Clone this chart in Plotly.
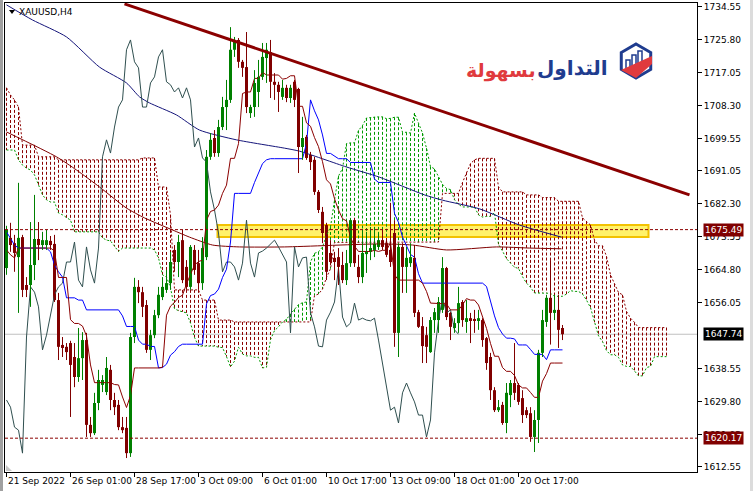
import plotly.graph_objects as go

# ---------------- data ----------------
symbol_label = "XAUUSD,H4"
time_labels = ["21 Sep 2022", "26 Sep 01:00", "28 Sep 17:00", "3 Oct 09:00", "6 Oct 01:00",
               "10 Oct 17:00", "13 Oct 09:00", "18 Oct 01:00", "20 Oct 17:00"]
time_label_bars = [0, 16, 32, 48, 64, 80, 96, 112, 128]

opens = [
    1665.3, 1673.3, 1671.9, 1668.2, 1673.5, 1660.8, 1660.8, 1666.1, 1673.0, 1671.4,
    1671.4, 1672.5, 1671.7, 1656.8, 1644.9, 1644.4, 1645.4, 1641.7, 1636.4, 1641.4,
    1646.2, 1623.7, 1621.5, 1629.5, 1634.3, 1632.4, 1638.3, 1630.3, 1629.0, 1623.1,
    1622.9, 1616.2, 1647.0, 1660.3, 1658.9, 1655.5, 1643.6, 1647.5, 1652.8, 1657.6,
    1659.5, 1661.3, 1670.1, 1666.9, 1672.7, 1665.6, 1660.3, 1670.1, 1666.6, 1661.3,
    1668.2, 1694.8, 1699.8, 1695.8, 1702.7, 1708.0, 1709.9, 1723.2, 1725.8, 1720.0,
    1718.6, 1706.4, 1708.0, 1712.0, 1716.0, 1721.0, 1722.6, 1714.7, 1713.9, 1710.7,
    1713.1, 1710.4, 1714.7, 1712.8, 1697.4, 1700.1, 1695.3, 1694.0, 1685.5, 1680.2,
    1676.7, 1669.3, 1668.0, 1668.2, 1666.1, 1662.1, 1666.6, 1678.0, 1665.6, 1662.9,
    1669.0, 1669.6, 1670.1, 1670.9, 1672.7, 1671.9, 1670.1, 1674.6, 1648.1, 1670.9,
    1665.6, 1666.6, 1668.0, 1653.6, 1649.9, 1647.5, 1643.0, 1651.5, 1651.5, 1654.2,
    1665.3, 1653.4, 1649.4, 1650.7, 1656.3, 1651.0, 1652.0, 1651.8, 1651.5, 1651.5,
    1646.7, 1641.7, 1632.9, 1627.6, 1629.0, 1624.2, 1631.6, 1634.8, 1634.3, 1630.8,
    1627.6, 1626.8, 1620.5, 1625.0, 1642.8, 1651.0, 1657.4, 1653.4, 1654.2, 1649.4]
highs = [
    1676.5, 1677.3, 1674.1, 1687.9, 1674.1, 1662.9, 1677.5, 1684.7, 1677.5, 1674.9,
    1675.4, 1673.8, 1674.1, 1658.7, 1647.0, 1645.4, 1646.0, 1645.4, 1649.4, 1648.3,
    1648.1, 1625.8, 1632.2, 1638.3, 1636.9, 1641.7, 1639.6, 1632.2, 1630.3, 1625.8,
    1625.8, 1648.1, 1662.7, 1662.1, 1660.3, 1656.8, 1648.9, 1654.2, 1660.3, 1662.9,
    1664.8, 1669.6, 1671.4, 1674.1, 1675.4, 1667.4, 1671.4, 1671.4, 1670.1, 1673.5,
    1696.6, 1701.1, 1701.9, 1704.6, 1710.7, 1715.2, 1729.2, 1726.6, 1726.3, 1720.5,
    1727.9, 1708.6, 1717.8, 1720.5, 1725.0, 1725.0, 1725.8, 1717.0, 1714.7, 1715.2,
    1713.9, 1713.9, 1715.2, 1713.1, 1705.4, 1700.6, 1696.1, 1694.8, 1686.0, 1681.5,
    1677.3, 1672.7, 1669.6, 1670.6, 1669.6, 1670.1, 1678.3, 1678.6, 1668.8, 1675.4,
    1674.9, 1676.2, 1676.2, 1674.6, 1675.4, 1673.3, 1682.6, 1678.0, 1671.9, 1671.9,
    1670.9, 1671.9, 1671.4, 1654.2, 1652.3, 1649.7, 1652.3, 1654.7, 1657.6, 1668.2,
    1665.6, 1653.6, 1652.0, 1660.3, 1656.8, 1656.8, 1653.4, 1654.2, 1654.2, 1652.0,
    1647.0, 1642.8, 1633.7, 1630.3, 1629.8, 1634.8, 1635.6, 1645.4, 1634.8, 1632.9,
    1628.4, 1628.4, 1627.6, 1643.6, 1654.2, 1658.2, 1667.4, 1658.2, 1658.2, 1650.2]
lows = [
    1663.5, 1669.6, 1664.3, 1653.4, 1657.6, 1657.6, 1655.0, 1662.1, 1667.4, 1670.1,
    1670.1, 1670.1, 1656.3, 1640.9, 1641.7, 1640.9, 1625.8, 1633.7, 1635.1, 1635.6,
    1620.5, 1620.5, 1621.0, 1627.6, 1632.4, 1631.6, 1627.6, 1626.3, 1622.3, 1621.5,
    1614.9, 1615.2, 1645.4, 1656.0, 1652.3, 1642.8, 1640.9, 1646.7, 1652.0, 1656.8,
    1658.7, 1659.5, 1664.3, 1662.9, 1661.3, 1659.5, 1659.5, 1663.5, 1659.5, 1659.5,
    1667.4, 1694.0, 1694.8, 1694.8, 1701.9, 1701.9, 1709.1, 1721.3, 1718.4, 1716.0,
    1706.4, 1705.1, 1705.4, 1708.0, 1715.2, 1714.4, 1710.4, 1709.9, 1706.7, 1709.9,
    1709.3, 1709.1, 1708.0, 1690.5, 1694.0, 1694.0, 1691.3, 1684.7, 1679.9, 1671.9,
    1662.1, 1666.1, 1662.1, 1660.8, 1661.3, 1660.8, 1665.6, 1665.6, 1661.3, 1661.3,
    1664.0, 1667.4, 1668.2, 1670.1, 1670.1, 1668.2, 1665.6, 1644.4, 1641.7, 1658.7,
    1658.7, 1665.6, 1652.3, 1649.4, 1640.1, 1640.1, 1642.8, 1648.1, 1648.1, 1653.4,
    1651.5, 1646.2, 1648.1, 1648.1, 1649.7, 1648.1, 1645.4, 1648.1, 1648.9, 1644.4,
    1638.3, 1630.3, 1627.1, 1627.1, 1623.7, 1621.5, 1628.4, 1630.3, 1629.0, 1624.2,
    1625.5, 1619.2, 1616.5, 1618.9, 1641.7, 1649.7, 1645.0, 1651.5, 1644.1, 1646.2]
closes = [
    1675.4, 1671.4, 1669.3, 1673.3, 1659.5, 1659.5, 1666.1, 1673.0, 1671.4, 1672.7,
    1672.7, 1671.4, 1656.8, 1644.4, 1644.1, 1643.0, 1639.6, 1636.4, 1641.4, 1646.2,
    1623.7, 1621.5, 1629.5, 1635.6, 1635.6, 1638.8, 1630.3, 1628.4, 1623.1, 1622.3,
    1616.2, 1647.0, 1660.3, 1658.9, 1655.0, 1643.6, 1647.5, 1652.8, 1658.2, 1660.3,
    1661.3, 1666.9, 1666.9, 1672.2, 1662.1, 1660.3, 1670.9, 1664.8, 1661.3, 1670.6,
    1694.8, 1699.3, 1695.8, 1702.7, 1708.0, 1709.9, 1723.2, 1725.8, 1720.0, 1718.4,
    1708.0, 1708.0, 1714.4, 1716.0, 1721.3, 1723.2, 1714.7, 1713.9, 1712.0, 1713.1,
    1710.4, 1713.1, 1709.9, 1697.4, 1699.8, 1694.5, 1693.4, 1685.5, 1680.7, 1674.6,
    1664.3, 1666.9, 1666.9, 1665.6, 1662.1, 1666.6, 1678.0, 1666.6, 1662.9, 1669.3,
    1669.8, 1670.6, 1671.7, 1672.7, 1670.9, 1668.8, 1666.9, 1648.1, 1670.9, 1665.6,
    1668.0, 1668.2, 1653.4, 1649.7, 1644.6, 1644.4, 1651.5, 1653.6, 1656.3, 1665.3,
    1652.3, 1649.7, 1650.7, 1656.0, 1651.5, 1652.0, 1651.5, 1651.3, 1652.0, 1646.2,
    1640.1, 1632.9, 1627.6, 1628.4, 1624.2, 1632.2, 1634.8, 1632.2, 1629.8, 1626.3,
    1626.3, 1620.5, 1625.0, 1642.8, 1651.5, 1657.4, 1653.4, 1654.2, 1648.9, 1647.74]

tenkan = [
    1670.1, 1668.8, 1668.0, 1670.6, 1670.6, 1670.6, 1670.6, 1670.6, 1670.6, 1670.6,
    1670.6, 1670.6, 1669.8, 1662.8, 1662.8, 1662.8, 1651.6, 1650.6, 1650.6, 1649.9,
    1647.3, 1639.6, 1634.9, 1634.9, 1634.9, 1634.9, 1634.9, 1634.4, 1634.3, 1631.1,
    1628.3, 1631.5, 1638.8, 1638.8, 1638.8, 1638.8, 1638.8, 1638.8, 1638.8, 1639.0,
    1652.8, 1655.2, 1656.2, 1657.5, 1658.1, 1661.1, 1663.7, 1666.1, 1667.0, 1667.4,
    1678.0, 1680.3, 1680.7, 1682.0, 1685.1, 1687.3, 1694.4, 1694.4, 1698.3, 1711.6,
    1712.0, 1712.0, 1715.6, 1715.6, 1717.2, 1716.5, 1716.5, 1716.5, 1716.5, 1715.4,
    1715.6, 1716.3, 1716.3, 1708.2, 1708.2, 1703.8, 1702.9, 1699.9, 1697.5, 1693.5,
    1688.7, 1687.6, 1683.7, 1680.7, 1678.4, 1677.8, 1673.4, 1671.1, 1669.7, 1669.7,
    1669.7, 1669.7, 1670.0, 1669.7, 1670.0, 1670.0, 1672.0, 1663.5, 1662.1, 1662.1,
    1662.1, 1662.1, 1662.1, 1662.1, 1661.3, 1659.1, 1656.0, 1656.0, 1656.0, 1656.0,
    1655.8, 1654.2, 1654.2, 1654.2, 1655.5, 1657.2, 1656.8, 1656.8, 1655.5, 1652.3,
    1649.3, 1645.3, 1641.9, 1641.9, 1638.9, 1637.9, 1637.9, 1636.8, 1634.3, 1633.5,
    1633.5, 1632.3, 1631.0, 1631.0, 1635.3, 1637.3, 1640.1, 1640.1, 1640.1, 1640.1]
kijun = [
    1674.9, 1673.3, 1671.4, 1670.6, 1670.6, 1670.6, 1670.6, 1670.6, 1670.6, 1670.6,
    1670.6, 1669.6, 1666.1, 1664.3, 1662.9, 1657.4, 1657.4, 1657.4, 1656.8, 1656.8,
    1654.2, 1654.2, 1654.2, 1654.2, 1654.2, 1654.2, 1654.2, 1654.2, 1654.2, 1652.6,
    1649.8, 1649.8, 1649.8, 1646.2, 1645.1, 1645.1, 1644.5, 1644.5, 1638.8, 1638.9,
    1639.8, 1642.2, 1643.1, 1644.5, 1645.1, 1645.1, 1645.1, 1645.1, 1645.1, 1645.1,
    1655.8, 1658.0, 1658.4, 1659.7, 1662.8, 1665.0, 1672.2, 1685.1, 1685.1, 1685.1,
    1685.1, 1685.1, 1688.0, 1690.6, 1693.0, 1694.0, 1694.3, 1694.3, 1694.3, 1694.3,
    1694.3, 1694.3, 1694.3, 1694.3, 1694.3, 1698.3, 1709.9, 1707.0, 1704.6, 1700.6,
    1695.7, 1695.7, 1695.0, 1694.3, 1694.3, 1694.3, 1693.3, 1693.3, 1693.3, 1693.3,
    1693.3, 1693.3, 1688.9, 1688.0, 1688.0, 1688.0, 1688.0, 1679.8, 1677.4, 1673.5,
    1671.2, 1668.9, 1668.2, 1663.8, 1661.3, 1661.3, 1661.3, 1661.3, 1661.3, 1661.3,
    1661.3, 1661.3, 1661.3, 1661.3, 1661.3, 1661.3, 1661.3, 1661.3, 1661.3, 1661.3,
    1660.4, 1656.4, 1652.6, 1649.5, 1647.8, 1646.7, 1646.7, 1646.5, 1644.9, 1644.9,
    1644.9, 1643.7, 1642.4, 1642.4, 1642.4, 1641.0, 1643.6, 1643.6, 1643.6, 1643.6]

span_a = [
    1696.6, 1696.6, 1696.6, 1694.0, 1692.6, 1691.8, 1691.3, 1690.0, 1687.3, 1684.7,
    1683.4, 1682.8, 1682.8, 1679.9, 1679.4, 1678.6, 1678.0, 1674.9, 1674.9, 1674.9,
    1674.9, 1674.9, 1674.9, 1674.9, 1673.3, 1672.7, 1672.5, 1671.0, 1669.7, 1670.6,
    1670.6, 1670.6, 1670.6, 1670.6, 1670.6, 1670.6, 1670.6, 1670.1, 1668.0, 1663.5,
    1662.9, 1660.1, 1654.5, 1654.0, 1653.7, 1653.4, 1650.7, 1646.9, 1644.6, 1644.6,
    1644.6, 1644.6, 1644.6, 1644.3, 1644.2, 1641.8, 1639.1, 1640.6, 1644.3, 1642.5,
    1642.0, 1642.0, 1641.6, 1641.6, 1638.8, 1639.0, 1646.3, 1648.7, 1649.7, 1651.0,
    1651.7, 1653.1, 1654.4, 1655.6, 1656.1, 1656.3, 1666.9, 1669.2, 1669.6, 1670.9,
    1673.9, 1676.2, 1683.3, 1689.7, 1691.7, 1698.3, 1698.5, 1698.5, 1701.8, 1703.1,
    1705.1, 1705.2, 1705.4, 1705.4, 1705.4, 1704.9, 1705.0, 1705.3, 1705.3, 1701.3,
    1701.3, 1701.1, 1706.4, 1703.5, 1701.1, 1697.1, 1692.2, 1691.6, 1689.4, 1687.5,
    1686.4, 1686.1, 1683.4, 1682.2, 1681.5, 1681.5, 1681.5, 1681.5, 1679.4, 1678.8,
    1679.0, 1679.0, 1680.0, 1671.6, 1669.8, 1667.8, 1666.6, 1665.5, 1665.2, 1663.0,
    1661.3, 1660.2, 1658.7, 1658.7, 1658.7, 1658.7, 1658.6, 1657.8, 1657.8, 1657.8,
    1658.4, 1659.3, 1659.1, 1659.1, 1658.4, 1656.8, 1654.8, 1650.9, 1647.3, 1645.8,
    1643.4, 1642.3, 1642.3, 1641.6, 1639.6, 1639.2, 1639.2, 1638.0, 1636.7, 1636.7,
    1638.9, 1639.2, 1641.8, 1641.8, 1641.8, 1641.8]
span_b = [
    1713.1, 1711.2, 1709.9, 1708.0, 1697.9, 1697.9, 1697.9, 1697.9, 1694.8, 1694.8,
    1694.8, 1694.8, 1694.8, 1694.0, 1694.0, 1694.0, 1694.0, 1694.0, 1694.0, 1694.0,
    1694.0, 1694.0, 1694.0, 1694.0, 1694.0, 1694.0, 1694.0, 1694.0, 1694.0, 1694.0,
    1694.0, 1694.0, 1694.0, 1694.0, 1694.5, 1694.5, 1694.5, 1694.5, 1686.8, 1686.8,
    1686.8, 1679.4, 1659.5, 1659.5, 1659.5, 1659.5, 1659.5, 1659.5, 1659.5, 1656.8,
    1656.8, 1656.8, 1656.8, 1651.5, 1651.5, 1651.5, 1651.5, 1651.0, 1651.0, 1651.0,
    1651.0, 1651.0, 1651.0, 1651.0, 1651.0, 1651.0, 1651.0, 1651.0, 1651.0, 1651.0,
    1651.0, 1651.0, 1651.0, 1651.0, 1651.0, 1651.0, 1651.0, 1658.0, 1658.4, 1659.7,
    1662.8, 1665.1, 1672.1, 1672.1, 1672.1, 1672.1, 1672.1, 1672.1, 1672.1, 1672.1,
    1672.1, 1672.1, 1672.1, 1672.1, 1672.1, 1672.1, 1672.1, 1672.1, 1672.1, 1672.1,
    1672.1, 1672.1, 1672.1, 1672.1, 1672.1, 1672.1, 1672.1, 1672.1, 1672.2, 1685.1,
    1685.1, 1685.1, 1685.1, 1685.1, 1688.0, 1690.7, 1693.0, 1694.0, 1694.4, 1694.4,
    1694.4, 1694.4, 1694.4, 1686.8, 1685.5, 1685.5, 1685.5, 1685.5, 1685.5, 1685.5,
    1684.7, 1684.7, 1684.7, 1684.7, 1684.0, 1684.0, 1684.0, 1684.0, 1683.0, 1683.0,
    1683.0, 1683.0, 1683.0, 1683.0, 1678.6, 1677.7, 1676.7, 1672.7, 1671.2, 1671.2,
    1668.4, 1663.5, 1661.1, 1658.8, 1658.2, 1653.8, 1652.0, 1650.9, 1649.5, 1649.5,
    1649.5, 1649.5, 1649.5, 1649.5, 1649.5, 1649.5]

# long moving averages (vertices)
ma_navy_bars = [0, 6.5, 15, 23.25, 30, 33.25, 35.75, 42.5, 48.25, 57.5, 69.5, 73.25, 85, 93.25,
                104.5, 109, 118.25, 128.25, 138.75]
ma_navy_vals = [1735.1, 1731.1, 1726.6, 1718.6, 1714.4, 1710.7, 1709.1, 1705.9, 1701.9, 1699.3,
                1697.1, 1696.3, 1692.1, 1689.4, 1684.7, 1683.3, 1681.0, 1676.7, 1673.5]
ma_red_bars = [0, 12.5, 17.5, 23.25, 30, 34.5, 41.5, 45.75, 51.5, 58.25, 69.5, 93.25, 101.5,
               110, 122.5, 130.75, 138.75]
ma_red_vals = [1701.4, 1694.8, 1691.3, 1686.8, 1681.2, 1678.6, 1675.4, 1673.5, 1671.4, 1670.9,
               1670.9, 1671.7, 1671.4, 1670.1, 1670.9, 1670.6, 1670.4]

trend_bars = [29.5, 170.75]
trend_vals = [1735.35, 1684.7]

resistance_level = 1675.49
support_level = 1620.17
last_price = 1647.74
zone_bars = [52.75, 160.5]
zone_vals = [1673.5, 1676.7]

y_tick_vals = [1734.55, 1725.80, 1717.05, 1708.30, 1699.55, 1691.05, 1682.30, 1673.55,
               1664.80, 1656.05, 1638.55, 1629.80, 1621.05, 1612.55]
chikou_shift = 26

# ---------------- colours / fonts ----------------
BULL = "#008000"
BEAR = "#800000"
CLOUD_BULL = "#009a00"
CLOUD_BEAR = "#8b0000"
FONT = "DejaVu Sans"

W, H = 753, 491
ML, MR, MT, MB = 5, 56, 3, 19
PW, PH = W - ML - MR, H - MT - MB


def px(x):
    return (x - ML) / PW


def py(y):
    return (H - MB - y) / PH


fig = go.Figure()

# ----- Ichimoku cloud hatching -----
bx, by, rx, ry = [], [], [], []
for p, (a, b) in enumerate(zip(span_a, span_b)):
    if a >= b:
        bx += [p, p, None]
        by += [a, b, None]
    else:
        rx += [p, p, None]
        ry += [b, a, None]
fig.add_trace(go.Scatter(x=rx, y=ry, mode="lines", line=dict(color=CLOUD_BEAR, width=1, dash="3px,2px"),
                         hoverinfo="skip", showlegend=False))
fig.add_trace(go.Scatter(x=bx, y=by, mode="lines", line=dict(color=CLOUD_BULL, width=1, dash="3px,2px"),
                         hoverinfo="skip", showlegend=False))
cloud_bars = list(range(len(span_a)))
fig.add_trace(go.Scatter(x=cloud_bars, y=span_a, mode="lines",
                         line=dict(color=CLOUD_BULL, width=1, dash="2px,2px"),
                         hoverinfo="skip", showlegend=False))
fig.add_trace(go.Scatter(x=cloud_bars, y=span_b, mode="lines",
                         line=dict(color=CLOUD_BEAR, width=1, dash="2px,2px"),
                         hoverinfo="skip", showlegend=False))

# ----- moving averages -----
fig.add_trace(go.Scatter(x=ma_navy_bars, y=ma_navy_vals, mode="lines",
                         line=dict(color="#14147a", width=1, shape="spline", smoothing=0.6),
                         hoverinfo="skip", showlegend=False))
fig.add_trace(go.Scatter(x=ma_red_bars, y=ma_red_vals, mode="lines",
                         line=dict(color="#800000", width=1, shape="spline", smoothing=0.6),
                         hoverinfo="skip", showlegend=False))

# ----- Ichimoku lines -----
bars = list(range(len(closes)))
fig.add_trace(go.Scatter(x=bars[:len(closes) - chikou_shift], y=closes[chikou_shift:], mode="lines",
                         line=dict(color="#2f4f4f", width=1), hoverinfo="skip", showlegend=False))
fig.add_trace(go.Scatter(x=bars, y=kijun, mode="lines", line=dict(color="#0000ff", width=1),
                         hoverinfo="skip", showlegend=False))
fig.add_trace(go.Scatter(x=bars, y=tenkan, mode="lines", line=dict(color="#8b0000", width=1),
                         hoverinfo="skip", showlegend=False))

# ----- candles -----
for up, col in ((True, BULL), (False, BEAR)):
    wx, wy, cx, cb, ch = [], [], [], [], []
    for i in bars:
        is_up = closes[i] >= opens[i]
        if is_up != up:
            continue
        wx += [i, i, None]
        wy += [lows[i], highs[i], None]
        lo = min(opens[i], closes[i])
        hi = max(opens[i], closes[i])
        cx.append(i)
        cb.append(lo)
        ch.append(max(hi - lo, 0.3))
    fig.add_trace(go.Scatter(x=wx, y=wy, mode="lines", line=dict(color=col, width=1),
                             hoverinfo="skip", showlegend=False))
    fig.add_trace(go.Bar(x=cx, y=ch, base=cb, width=0.75, marker=dict(color=col, line=dict(width=0)),
                         hoverinfo="skip", showlegend=False))

# ----- trend line -----
fig.add_trace(go.Scatter(x=trend_bars, y=trend_vals, mode="lines", line=dict(color="#8b0000", width=3),
                         hoverinfo="skip", showlegend=False))

shapes = []
# yellow zone
shapes.append(dict(type="rect", xref="x", yref="y", x0=zone_bars[0], x1=zone_bars[1],
                   y0=zone_vals[0], y1=zone_vals[1], layer="below",
                   fillcolor="rgba(255,240,80,0.85)", line=dict(color="#f2c200", width=2)))
# current price line
shapes.append(dict(type="line", xref="paper", yref="y", x0=0, x1=1, y0=last_price, y1=last_price,
                   layer="below", line=dict(color="#c0c0c0", width=1)))
# dashed support / resistance
for lvl in (resistance_level, support_level):
    shapes.append(dict(type="line", xref="paper", yref="y", x0=0, x1=1, y0=lvl, y1=lvl,
                       line=dict(color="#8b0000", width=1, dash="3px,2px")))
# window decoration
shapes.append(dict(type="rect", xref="paper", yref="paper", x0=px(0), x1=px(3), y0=py(491), y1=py(0),
                   fillcolor="#a0a0a0", line=dict(width=0)))
shapes.append(dict(type="rect", xref="paper", yref="paper", x0=px(750), x1=px(753), y0=py(491), y1=py(0),
                   fillcolor="#dcdcdc", line=dict(width=0)))
shapes.append(dict(type="path", xref="paper", yref="paper",
                   path=f"M {px(6)} {py(465)} L {px(6)} {py(471)} L {px(12)} {py(471)} Z",
                   fillcolor="#c8c8c8", line=dict(width=0)))
# symbol triangle
shapes.append(dict(type="path", xref="paper", yref="paper",
                   path=f"M {px(9)} {py(10)} L {px(15)} {py(10)} L {px(12)} {py(14)} Z",
                   fillcolor="#000000", line=dict(width=0)))
# logo icon
cx0, cy0, r = 636, 61, 17
hexpts = [(cx0, cy0 - r), (cx0 + 0.866 * r, cy0 - r / 2), (cx0 + 0.866 * r, cy0 + r / 2),
          (cx0, cy0 + r), (cx0 - 0.866 * r, cy0 + r / 2), (cx0 - 0.866 * r, cy0 - r / 2)]
hp = "M " + " L ".join(f"{px(a)} {py(b)}" for a, b in hexpts) + " Z"
shapes.append(dict(type="path", xref="paper", yref="paper", path=hp,
                   fillcolor="rgba(0,0,0,0)", line=dict(color="#1f3c8f", width=3)))
for bx0, top in ((626, 60), (632, 55), (638, 51)):
    shapes.append(dict(type="rect", xref="paper", yref="paper", x0=px(bx0), x1=px(bx0 + 4),
                       y0=py(71), y1=py(top), fillcolor="#ffffff", line=dict(color="#1f3c8f", width=1.5)))
shapes.append(dict(type="path", xref="paper", yref="paper",
                   path=f"M {px(621)} {py(70)} L {px(652)} {py(56)} L {px(652)} {py(64)} L {px(636)} {py(78)} Z",
                   fillcolor="#e03a3e", line=dict(width=0)))

annotations = []
annotations.append(dict(text=symbol_label, xref="paper", yref="paper", x=px(18), y=py(12),
                        xanchor="left", yanchor="middle", showarrow=False, borderpad=0,
                        font=dict(family=FONT, size=9, color="#000000")))
annotations.append(dict(text="<b>التداول</b>", xref="paper", yref="paper", x=px(609), y=py(68),
                        xanchor="right", yanchor="middle", showarrow=False, borderpad=0,
                        font=dict(family=FONT, size=20, color="#1f3c8f")))
annotations.append(dict(text="<b>بسهولة</b>", xref="paper", yref="paper", x=px(537), y=py(70),
                        xanchor="right", yanchor="middle", showarrow=False, borderpad=0,
                        font=dict(family=FONT, size=19, color="#e03a3e")))
for lvl, bg in ((resistance_level, "#800000"), (last_price, "#000000"), (support_level, "#800000")):
    annotations.append(dict(text=f"{lvl:.2f}", xref="paper", yref="y", x=1, y=lvl, xanchor="left",
                            yanchor="middle", xshift=6, showarrow=False, bgcolor=bg, borderpad=1,
                            font=dict(family=FONT, size=9, color="#ffffff")))
for b, lab in zip(time_label_bars, time_labels):
    annotations.append(dict(text=lab, xref="x", yref="paper", x=b, y=py(481), xanchor="left",
                            yanchor="middle", showarrow=False, borderpad=0,
                            font=dict(family=FONT, size=9, color="#000000")))

fig.update_layout(
    width=W, height=H,
    margin=dict(l=ML, r=MR, t=MT, b=MB, autoexpand=False),
    paper_bgcolor="#ffffff", plot_bgcolor="#ffffff",
    barmode="overlay", showlegend=False,
    shapes=shapes, annotations=annotations,
    xaxis=dict(range=[-0.375, 172.625], showgrid=False, zeroline=False, showline=True, mirror=True,
               linecolor="#000000", linewidth=1, ticks="outside", ticklen=4, tickcolor="#000000",
               tickvals=time_label_bars, showticklabels=False),
    yaxis=dict(range=[1611.2, 1735.6], side="right", showgrid=False, zeroline=False, showline=True,
               mirror=True, linecolor="#000000", linewidth=1, ticks="outside", ticklen=4,
               tickcolor="#000000", tickvals=y_tick_vals, ticktext=[f"{v:.2f}" for v in y_tick_vals],
               tickfont=dict(family=FONT, size=9, color="#000000")),
)

fig.write_html("out.html", config={"displayModeBar": False},
               post_script="document.body.style.margin='0px';")
